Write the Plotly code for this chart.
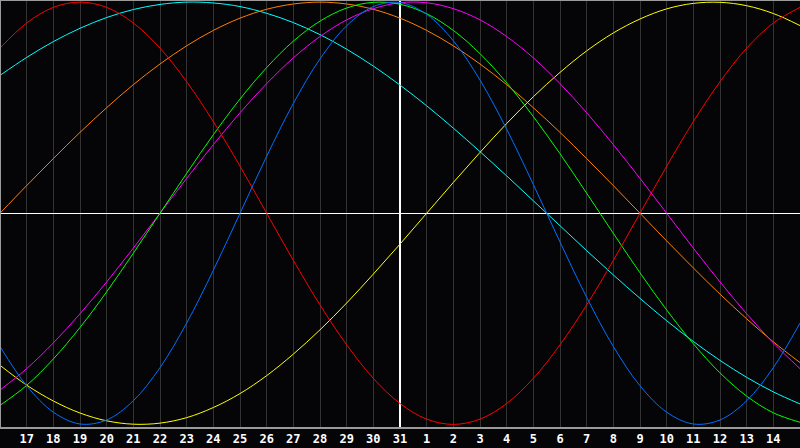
import plotly.graph_objects as go

# day offsets relative to the 31st (x axis), -15 .. 15
days = list(range(-15, 16))
tick_pos = list(range(-14, 15))
tick_labels = [str(d) for d in range(17, 32)] + [str(d) for d in range(1, 15)]

physical = [-0.631, -0.817, -0.942, -0.998, -0.979, -0.888, -0.731, -0.520, -0.270, 0.000, 0.270, 0.520, 0.731,
            0.888, 0.979, 0.998, 0.942, 0.817, 0.631, 0.398, 0.136, -0.136, -0.398, -0.631, -0.817, -0.942,
            -0.998, -0.979, -0.888, -0.731, -0.520]
emotional = [0.782, 0.901, 0.975, 1.000, 0.975, 0.901, 0.782, 0.623, 0.434, 0.223, 0.000, -0.223, -0.434, -0.623,
             -0.782, -0.901, -0.975, -1.000, -0.975, -0.901, -0.782, -0.623, -0.434, -0.223, 0.000, 0.223, 0.434,
             0.623, 0.782, 0.901, 0.975]
intellectual = [-0.910, -0.815, -0.690, -0.541, -0.372, -0.189, 0.000, 0.189, 0.372, 0.541, 0.690, 0.815, 0.910,
                0.972, 0.999, 0.990, 0.945, 0.866, 0.756, 0.618, 0.458, 0.282, 0.095, -0.095, -0.282, -0.458,
                -0.618, -0.756, -0.866, -0.945, -0.990]
intuitive = [-0.837, -0.736, -0.614, -0.476, -0.325, -0.165, 0.000, 0.165, 0.325, 0.476, 0.614, 0.736, 0.837,
             0.916, 0.969, 0.997, 0.997, 0.969, 0.916, 0.837, 0.736, 0.614, 0.476, 0.325, 0.165, 0.000, -0.165,
             -0.325, -0.476, -0.614, -0.736]
aesthetic = [-0.720, -0.814, -0.889, -0.946, -0.983, -0.999, -0.994, -0.968, -0.920, -0.854, -0.769, -0.667,
             -0.552, -0.425, -0.288, -0.146, 0.000, 0.146, 0.288, 0.425, 0.552, 0.667, 0.769, 0.854, 0.920, 0.968,
             0.994, 0.999, 0.983, 0.946, 0.889]
awareness = [0.000, 0.131, 0.259, 0.383, 0.500, 0.609, 0.707, 0.793, 0.866, 0.924, 0.966, 0.991, 1.000, 0.991,
             0.966, 0.924, 0.866, 0.793, 0.707, 0.609, 0.500, 0.383, 0.259, 0.131, 0.000, -0.131, -0.259, -0.383,
             -0.500, -0.609, -0.707]
spiritual = [0.653, 0.738, 0.813, 0.876, 0.927, 0.965, 0.989, 1.000, 0.996, 0.979, 0.947, 0.903, 0.846, 0.777,
             0.697, 0.607, 0.509, 0.403, 0.292, 0.177, 0.059, -0.059, -0.177, -0.292, -0.403, -0.509, -0.607,
             -0.697, -0.777, -0.846, -0.903]

series = [
    ("Spiritual", spiritual, "#00ffff"),
    ("Awareness", awareness, "#ff8000"),
    ("Aesthetic", aesthetic, "#ffff00"),
    ("Intuitive", intuitive, "#ff00ff"),
    ("Intellectual", intellectual, "#00ff00"),
    ("Emotional", emotional, "#ff0000"),
    ("Physical", physical, "#0070ff"),
]

fig = go.Figure()
for name, vals, col in series:
    fig.add_trace(go.Scatter(x=days, y=vals, mode="lines", name=name,
                             line=dict(color=col, width=1, shape="spline", smoothing=1.0)))

fig.update_layout(
    width=800, height=448,
    margin=dict(l=0, r=0, t=0, b=20),
    paper_bgcolor="#050508",
    plot_bgcolor="#050508",
    showlegend=False,
    xaxis=dict(range=[-15, 15], tickmode="array", tickvals=tick_pos, ticktext=tick_labels,
               showgrid=True, gridcolor="#333333", gridwidth=1,
               zeroline=True, zerolinecolor="#ffffff", zerolinewidth=2,
               showline=False, ticks="", ticklabelstandoff=2,
               tickfont=dict(family="DejaVu Sans Mono", size=12, color="#ffffff", weight="bold")),
    yaxis=dict(range=[-1.017, 1.010], showgrid=False, showticklabels=False,
               zeroline=True, zerolinecolor="#ffffff", zerolinewidth=1, ticks=""),
    shapes=[
        dict(type="line", xref="paper", yref="paper", x0=0, x1=1, y0=0, y1=0,
             line=dict(color="#9a9a9a", width=2)),
        dict(type="line", xref="paper", yref="paper", x0=0, x1=1, y0=1, y1=1,
             line=dict(color="#9a9a9a", width=2)),
        dict(type="line", xref="paper", yref="paper", x0=0, x1=0, y0=0, y1=1,
             line=dict(color="#9a9a9a", width=2)),
    ],
)

fig.write_html("out.html", config={"displayModeBar": False},
               post_script="document.body.style.margin='0';document.body.style.background='#050508';")
